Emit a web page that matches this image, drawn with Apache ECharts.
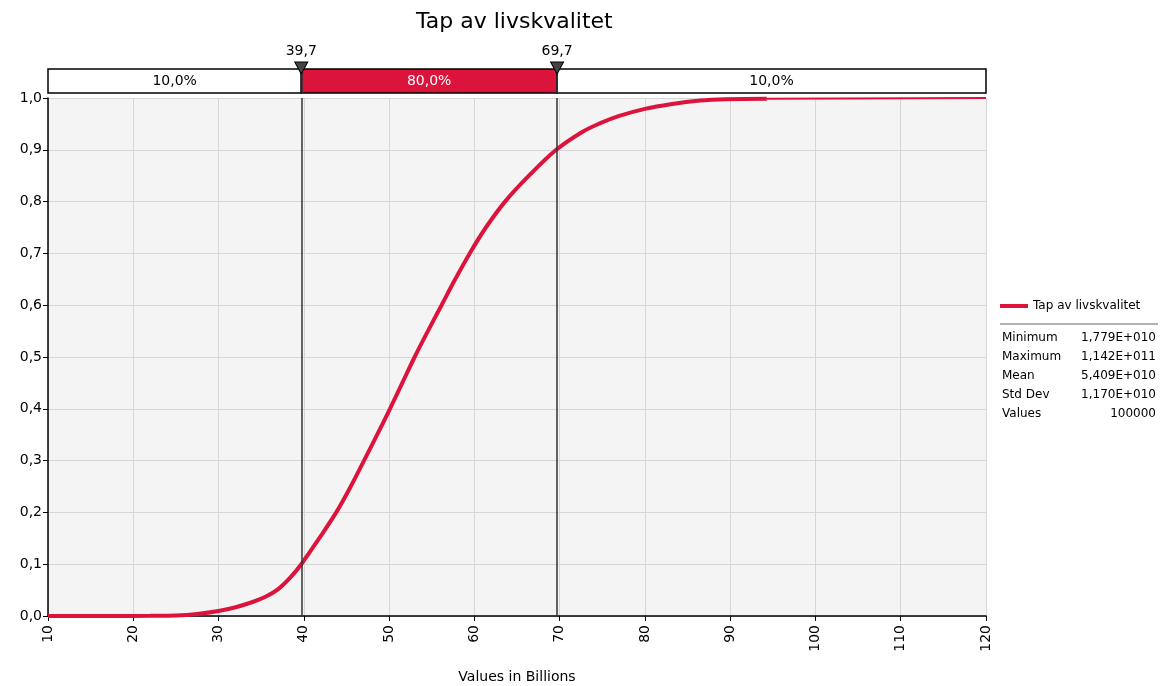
<!DOCTYPE html>
<html>
<head>
<meta charset="utf-8">
<script src="https://cdn.jsdelivr.net/npm/echarts@6/dist/echarts.min.js"></script>
<style>html,body{margin:0;padding:0;background:#fff}#c{width:1162px;height:686px}</style>
</head>
<body>
<div id="c"></div>
<script>
// ---- data ----
const chartTitle = 'Tap av livskvalitet';
const seriesName = 'Tap av livskvalitet';
const xAxisName = 'Values in Billions';
// cumulative curve: value (billions) and cumulative probability
const curveX = [10, 17.8, 22, 25, 27.5, 30, 32, 34, 35.5, 37, 38.4, 39.7, 41.8, 43.8, 45.5, 47.06, 48.6, 50.1, 51.55, 53.0, 54.55, 56.15, 57.75, 59.45, 61.35, 63.6, 66.4, 69.6, 72.6, 74.7, 76.9, 80, 83, 86.5, 89.5, 94.3];
const curveY = [0, 0, 0.0003, 0.001, 0.004, 0.0097, 0.017, 0.027, 0.037, 0.052, 0.074, 0.10, 0.15, 0.20, 0.25, 0.30, 0.35, 0.40, 0.45, 0.50, 0.55, 0.60, 0.65, 0.70, 0.75, 0.80, 0.85, 0.90, 0.934, 0.951, 0.965, 0.979, 0.988, 0.995, 0.9975, 0.9985];
const tailX = [94.3, 120];
const tailY = [0.9985, 1.0];
// percentile markers
const markerValues = [39.7, 69.7];
const markerLabels = ['39,7', '69,7'];
// band segments
const bandStarts = [10, 39.7, 69.7];
const bandEnds = [39.7, 69.7, 120];
const bandLabels = ['10,0%', '80,0%', '10,0%'];
const bandHighlighted = [false, true, false];
// statistics table
const statLabels = ['Minimum', 'Maximum', 'Mean', 'Std Dev', 'Values'];
const statValues = ['1,779E+010', '1,142E+011', '5,409E+010', '1,170E+010', '100000'];

// ---- chart ----
const RED = '#dc143c';
const FONT = 'DejaVu Sans';
const chart = echarts.init(document.getElementById('c'), null, {renderer: 'canvas'});

const curveData = curveX.map((x, i) => [x, curveY[i]]);
const tailData = tailX.map((x, i) => [x, tailY[i]]);

const statGraphics = [];
statGraphics.push({type: 'line', shape: {x1: 1000, y1: 324, x2: 1158, y2: 324}, style: {stroke: '#999', lineWidth: 1.5}});
statLabels.forEach((l, i) => {
  const y = 339 + i * 19;
  statGraphics.push({type: 'text', left: 1002, top: y - 7, style: {text: l, font: '12px "' + FONT + '"', fill: '#000'}});
  statGraphics.push({type: 'text', right: 6, top: y - 7, style: {text: statValues[i], font: '12px "' + FONT + '"', fill: '#000', textAlign: 'right'}});
});

const option = {
  backgroundColor: '#fff',
  animation: false,
  textStyle: {fontFamily: FONT},
  title: {
    text: chartTitle, left: 411, top: 6,
    textStyle: {fontFamily: FONT, fontSize: 22, fontWeight: 'normal', color: '#000'}
  },
  legend: {
    data: [seriesName], left: 995, top: 295, itemWidth: 28, itemHeight: 4, icon: 'rect', itemGap: 6,
    textStyle: {fontFamily: FONT, fontSize: 12, color: '#000'}
  },
  grid: [
    {left: 48, right: 176, top: 98, bottom: 70, show: true, backgroundColor: '#f4f4f4', borderWidth: 0,
      containLabel: false, outerBoundsMode: 'none'},
    {left: 48, right: 176, top: 69, height: 24, show: false, outerBoundsMode: 'none'}
  ],
  xAxis: [
    {
      type: 'value', min: 10, max: 120, interval: 10, gridIndex: 0,
      name: xAxisName, nameLocation: 'middle', nameGap: 54,
      nameTextStyle: {fontFamily: FONT, fontSize: 14, color: '#000'},
      axisLine: {show: true, lineStyle: {color: '#000', width: 1.5}},
      axisTick: {show: true, length: 5, lineStyle: {color: '#000'}},
      axisLabel: {rotate: 90, fontFamily: FONT, fontSize: 14, color: '#000', margin: 9},
      splitLine: {show: true, lineStyle: {color: '#d6d6d6', width: 1}}
    },
    {type: 'value', min: 10, max: 120, gridIndex: 1, show: false}
  ],
  yAxis: [
    {
      type: 'value', min: 0, max: 1, interval: 0.1, gridIndex: 0,
      axisLine: {show: true, lineStyle: {color: '#000', width: 1.5}},
      axisTick: {show: true, length: 5, lineStyle: {color: '#000'}},
      axisLabel: {fontFamily: FONT, fontSize: 14, color: '#000', margin: 6,
        formatter: v => v.toFixed(1).replace('.', ',')},
      splitLine: {show: true, lineStyle: {color: '#d6d6d6', width: 1}}
    },
    {type: 'value', min: 0, max: 1, gridIndex: 1, show: false}
  ],
  series: [
    {
      name: seriesName, type: 'line', xAxisIndex: 0, yAxisIndex: 0,
      data: curveData, showSymbol: false, symbol: 'none', smooth: 0.35,
      lineStyle: {color: RED, width: 4}, itemStyle: {color: RED}, z: 3,
      markLine: {
        silent: true, symbol: 'none', animation: false,
        lineStyle: {color: '#333', width: 1.5, type: 'solid'},
        label: {show: false},
        data: markerValues.map(v => ({xAxis: v}))
      }
    },
    {
      name: 'tail', type: 'line', xAxisIndex: 0, yAxisIndex: 0,
      data: tailData, showSymbol: false, symbol: 'none',
      lineStyle: {color: RED, width: 2}, z: 3
    },
    {
      name: 'band', type: 'line', xAxisIndex: 1, yAxisIndex: 1,
      data: [[10, 0]], showSymbol: false, symbol: 'none', lineStyle: {opacity: 0},
      markArea: {
        silent: true,
        data: bandStarts.map((s, i) => [
          {xAxis: s, yAxis: 0,
            itemStyle: {color: bandHighlighted[i] ? RED : '#fff', borderColor: '#000', borderWidth: 1.5},
            label: {show: true, position: 'inside', formatter: bandLabels[i],
              color: bandHighlighted[i] ? '#fff' : '#000', fontFamily: FONT, fontSize: 14}},
          {xAxis: bandEnds[i], yAxis: 1}
        ])
      },
      markLine: {
        silent: true, symbol: 'none', animation: false,
        lineStyle: {color: '#333', width: 1.5, type: 'solid'},
        label: {show: false},
        data: markerValues.map(v => ({xAxis: v}))
      },
      markPoint: {
        silent: true,
        symbol: 'triangle', symbolRotate: 180, symbolSize: [13, 12], symbolOffset: [0, -1],
        itemStyle: {color: '#444', borderColor: '#000', borderWidth: 1},
        label: {show: true, position: 'top', distance: 3, color: '#000', fontFamily: FONT, fontSize: 14,
          formatter: p => markerLabels[p.dataIndex]},
        data: markerValues.map(v => ({coord: [v, 1]}))
      },
      z: 4
    }
  ],
  graphic: statGraphics
};
chart.setOption(option);
</script>
</body>
</html>
